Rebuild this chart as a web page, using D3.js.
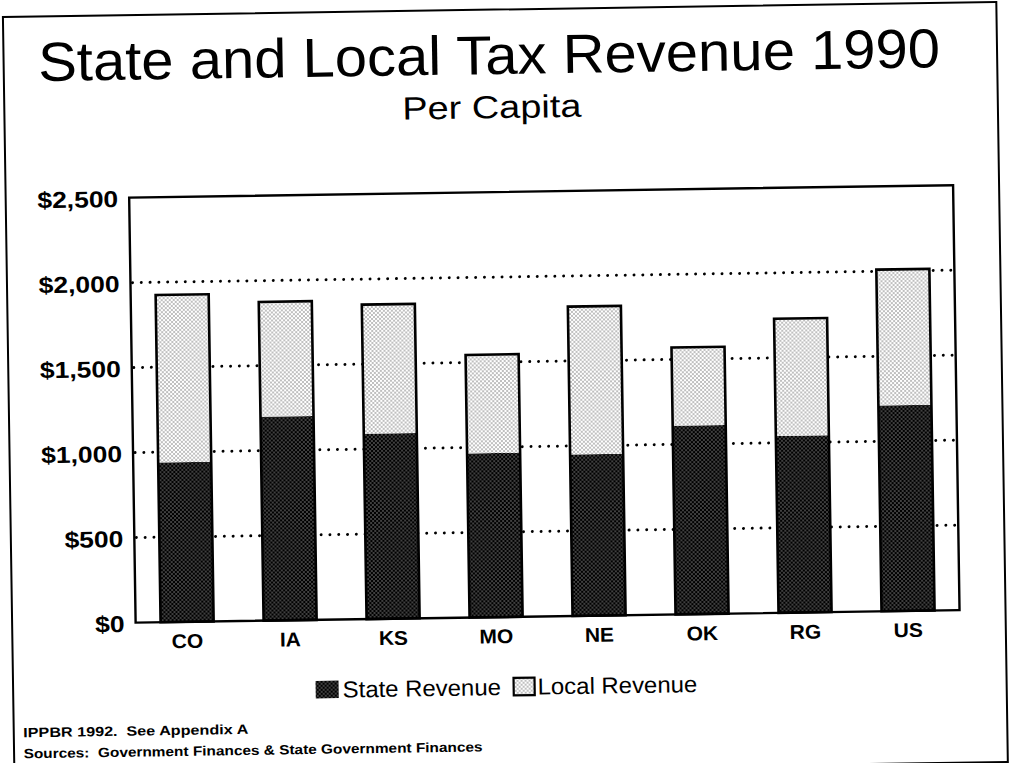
<!DOCTYPE html>
<html>
<head>
<meta charset="utf-8">
<script src="https://cdn.jsdelivr.net/npm/d3@7"></script>
<style>
  html, body { margin: 0; padding: 0; background: #fff; }
  svg { display: block; }
</style>
</head>
<body>
<svg id="chart" width="1009" height="763"></svg>
<script>
// Per-capita tax revenue, 1990 (dollars)
const states = ["CO", "IA", "KS", "MO", "NE", "OK", "RG", "US"];
const stateRevenue = [940, 1200, 1090, 965, 950, 1110, 1040, 1210];
const localRevenue = [985, 675, 760, 580, 870, 460, 690, 800];
const yTicks = [0, 500, 1000, 1500, 2000, 2500];
const gridValues = [500, 1000, 1500, 2000];
const seriesKeys = ["State", "Local"];
const seriesNames = ["State Revenue", "Local Revenue"];

const FONT = "'Liberation Sans', Arial, Helvetica, sans-serif";
const svg = d3.select("#chart");

// widen glyphs slightly, like the old Helvetica output
function stretch(sel, k) {
  sel.each(function () {
    const w = this.getComputedTextLength();
    this.setAttribute("textLength", w * k);
    this.setAttribute("lengthAdjust", "spacingAndGlyphs");
  });
}

// dot-screen fills
const defs = svg.append("defs");
const dark = defs.append("pattern").attr("id", "darkDots")
  .attr("patternUnits", "userSpaceOnUse").attr("width", 4).attr("height", 4);
dark.append("rect").attr("width", 4).attr("height", 4).attr("fill", "#000");
dark.append("rect").attr("x", 0.5).attr("y", 0.5).attr("width", 1.0).attr("height", 1.0).attr("fill", "#fff");
dark.append("rect").attr("x", 2.5).attr("y", 2.5).attr("width", 1.0).attr("height", 1.0).attr("fill", "#fff");

const light = defs.append("pattern").attr("id", "lightDots")
  .attr("patternUnits", "userSpaceOnUse").attr("width", 4).attr("height", 4);
light.append("rect").attr("width", 4).attr("height", 4).attr("fill", "#fff");
light.append("rect").attr("x", 0.5).attr("y", 0.5).attr("width", 1.0).attr("height", 1.0).attr("fill", "#000");
light.append("rect").attr("x", 2.5).attr("y", 2.5).attr("width", 1.0).attr("height", 1.0).attr("fill", "#000");

const fills = { State: "url(#darkDots)", Local: "url(#lightDots)" };

// whole page sits a little askew on the sheet
const page = svg.append("g").attr("transform", "rotate(-0.87 504 381)");

// sheet frame
page.append("rect")
  .attr("x", 8.5).attr("y", 9.5).attr("width", 993.5).attr("height", 760)
  .attr("fill", "none").attr("stroke", "#000").attr("stroke-width", 2);

// titles
page.append("text")
  .attr("x", 494).attr("y", 74).attr("text-anchor", "middle")
  .attr("font-family", FONT).attr("font-size", 55).attr("fill", "#000")
  .attr("textLength", 902).attr("lengthAdjust", "spacingAndGlyphs")
  .text("State and Local Tax Revenue 1990");

page.append("text")
  .attr("x", 496).attr("y", 118).attr("text-anchor", "middle")
  .attr("font-family", FONT).attr("font-size", 32).attr("fill", "#000")
  .attr("textLength", 179).attr("lengthAdjust", "spacingAndGlyphs")
  .text("Per Capita");

// plot area
const m = { left: 132, right: 956, top: 192, bottom: 617 };
const x = d3.scaleBand().domain(states).range([m.left, m.right])
  .paddingInner(0.485).paddingOuter(0.2425);
const y = d3.scaleLinear().domain([0, 2500]).range([m.bottom, m.top]);

// dotted gridlines
page.append("g").selectAll("line").data(gridValues).join("line")
  .attr("x1", m.left + 2).attr("x2", m.right - 2)
  .attr("y1", d => y(d)).attr("y2", d => y(d))
  .attr("stroke", "#000").attr("stroke-width", 3)
  .attr("stroke-linecap", "round").attr("stroke-dasharray", "0 8.8");

// stacked bars
const rows = states.map((s, i) => ({ state: s, State: stateRevenue[i], Local: localRevenue[i] }));
const stacked = d3.stack().keys(seriesKeys)(rows);

const bars = page.append("g");
stacked.forEach(layer => {
  bars.append("g").selectAll("rect").data(layer).join("rect")
    .attr("x", d => x(d.data.state))
    .attr("width", x.bandwidth())
    .attr("y", d => y(d[1]))
    .attr("height", d => y(d[0]) - y(d[1]))
    .attr("fill", fills[layer.key]);
});
// outline of each full stack
bars.append("g").selectAll("rect").data(rows).join("rect")
  .attr("x", d => x(d.state))
  .attr("width", x.bandwidth())
  .attr("y", d => y(d.State + d.Local))
  .attr("height", d => y(0) - y(d.State + d.Local))
  .attr("fill", "none").attr("stroke", "#000").attr("stroke-width", 2.6);

// plot border
page.append("rect")
  .attr("x", m.left).attr("y", m.top)
  .attr("width", m.right - m.left).attr("height", m.bottom - m.top)
  .attr("fill", "none").attr("stroke", "#000").attr("stroke-width", 2.4);

// y axis labels
const yAxis = page.append("g").attr("transform", `translate(${m.left},0)`)
  .call(d3.axisLeft(y).tickValues(yTicks).tickSize(0).tickPadding(11)
    .tickFormat(d3.format("$,")));
yAxis.select(".domain").remove();
yAxis.selectAll("text")
  .attr("font-family", FONT).attr("font-size", 23).attr("font-weight", "bold")
  .attr("fill", "#000").attr("dy", "0.38em");
stretch(yAxis.selectAll("text"), 1.15);

// x axis labels
const xAxis = page.append("g").attr("transform", `translate(0,${m.bottom})`)
  .call(d3.axisBottom(x).tickSize(0).tickPadding(12));
xAxis.select(".domain").remove();
xAxis.selectAll("text")
  .attr("font-family", FONT).attr("font-size", 20).attr("font-weight", "bold")
  .attr("fill", "#000");
stretch(xAxis.selectAll("text"), 1.05);

// legend
const legendItems = [
  { key: "State", name: seriesNames[0], sx: 311, sw: 23, tx: 338, stroke: false },
  { key: "Local", name: seriesNames[1], sx: 509, sw: 21, tx: 533, stroke: true }
];
const legend = page.append("g");
legendItems.forEach(it => {
  legend.append("rect")
    .attr("x", it.sx).attr("y", 678).attr("width", it.sw).attr("height", 17.5)
    .attr("fill", fills[it.key])
    .attr("stroke", it.stroke ? "#000" : "none").attr("stroke-width", 2.2);
  legend.append("text")
    .attr("x", it.tx).attr("y", 695)
    .attr("font-family", FONT).attr("font-size", 23).attr("fill", "#000")
    .text(it.name);
});
stretch(legend.selectAll("text"), 1.04);

// footnotes
const notes = page.append("g")
  .attr("font-family", FONT).attr("font-size", 13.5).attr("font-weight", "bold").attr("fill", "#000");
notes.append("text").attr("x", 18).attr("y", 730).attr("xml:space", "preserve")
  .attr("textLength", 225).attr("lengthAdjust", "spacingAndGlyphs")
  .text("IPPBR 1992.  See Appendix A");
notes.append("text").attr("x", 18).attr("y", 751).attr("xml:space", "preserve")
  .attr("textLength", 459).attr("lengthAdjust", "spacingAndGlyphs")
  .text("Sources:  Government Finances & State Government Finances");
</script>
</body>
</html>
